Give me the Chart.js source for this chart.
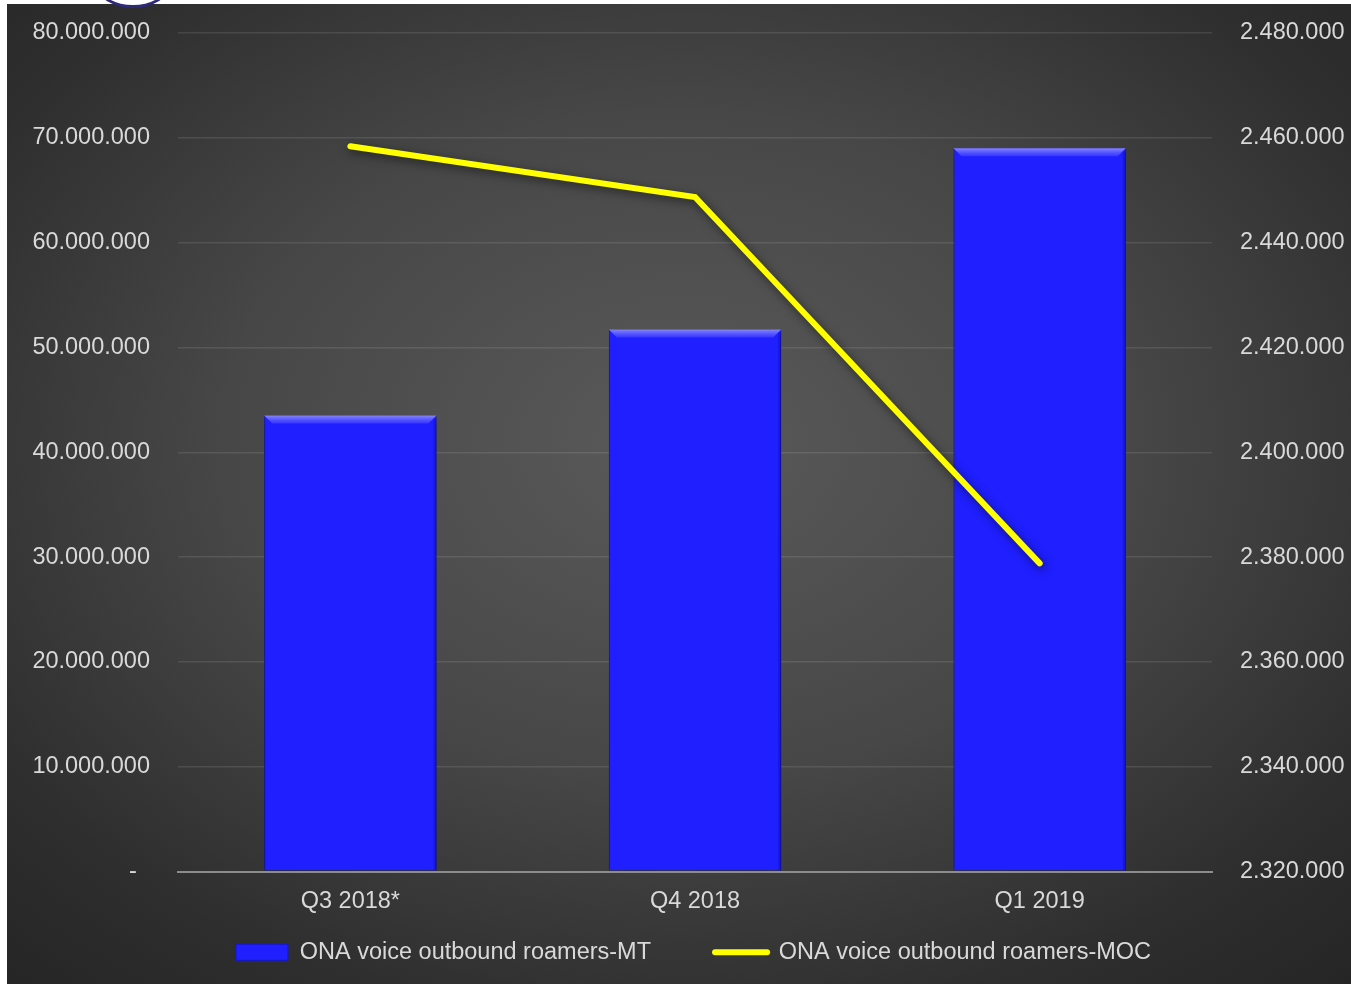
<!DOCTYPE html>
<html>
<head>
<meta charset="utf-8">
<script src="https://cdn.jsdelivr.net/npm/chart.js@4/dist/chart.umd.min.js"></script>
<style>
  html, body { margin: 0; padding: 0; background: #fff; }
  #wrap { position: relative; width: 1351px; height: 984px; overflow: hidden; }
  #bg {
    position: absolute; left: 7px; top: 4px; right: 0; bottom: 0;
    background: radial-gradient(ellipse 75% 75% at 50% 45%, #5a5a5a 0%, #474747 45%, #2e2e2e 80%, #252525 100%);
  }
  #logo {
    position: absolute; left: 98px; top: -34px; width: 64px; height: 36px;
    border: 3px solid #2e2a78; border-radius: 50%; background: #fff;
  }
  #chart { position: absolute; left: 0; top: 0; }
</style>
</head>
<body>
<div id="wrap">
  <div id="bg"></div>
  <div id="logo"></div>
  <canvas id="chart" width="1351" height="984"></canvas>
</div>
<script>
// DATA
const categories = ['Q3 2018*', 'Q4 2018', 'Q1 2019'];
const mtValues = [43500000, 51700000, 69000000];
const mocValues = [2458400, 2448700, 2378800];
const leftTicks = [0, 10000000, 20000000, 30000000, 40000000, 50000000, 60000000, 70000000, 80000000];
const rightTicks = [2320000, 2340000, 2360000, 2380000, 2400000, 2420000, 2440000, 2460000, 2480000];

const labelColor = '#d9d9d9';
const font = { family: '"Liberation Sans", Arial, sans-serif', size: 23.5 };

function fmt(v) {
    return Math.round(v).toString().replace(/\B(?=(\d{3})+(?!\d))/g, '.');
}

// BAR BEVEL + SHADOW
const bevel = {
    id: 'bevel',
    beforeDatasetDraw(chart, args) {
        const ctx = chart.ctx;
        ctx.save();
        ctx.shadowColor = 'rgba(0,0,0,0.55)';
        ctx.shadowBlur = 10;
        ctx.shadowOffsetX = 2;
        ctx.shadowOffsetY = 3;
    },
    afterDatasetDraw(chart, args) {
        const ctx = chart.ctx;
        ctx.restore();
        if (args.meta.type !== 'bar') return;
        args.meta.data.forEach(bar => {
            const l = bar.x - bar.width / 2, r = bar.x + bar.width / 2, t = bar.y;
            const d = 8;
            const g = ctx.createLinearGradient(0, t, 0, t + d);
            g.addColorStop(0, 'rgba(140,140,255,0.95)');
            g.addColorStop(1, 'rgba(70,70,255,0.6)');
            ctx.save();
            ctx.fillStyle = g;
            ctx.beginPath();
            ctx.moveTo(l, t);
            ctx.lineTo(r, t);
            ctx.lineTo(r - d, t + d);
            ctx.lineTo(l + d, t + d);
            ctx.closePath();
            ctx.fill();
            ctx.fillStyle = 'rgba(10,10,180,0.35)';
            ctx.fillRect(r - 3, t + 3, 3, bar.base - t - 3);
            ctx.restore();
        });
    }
};

// LAYOUT TWEAKS: give x labels room, centre legend on the plot
const tweak = {
    id: 'tweak',
    afterLayout(chart) {
        chart.scales.x.bottom += 60;
        chart.legend.left += 36;
    }
};

// CHART
const chart = new Chart(document.getElementById('chart').getContext('2d'), {
    type: 'bar',
    data: {
        labels: categories,
        datasets: [{
            type: 'bar',
            label: 'ONA voice outbound roamers-MT',
            data: mtValues,
            yAxisID: 'y',
            order: 2,
            backgroundColor: '#1f1fff',
            borderColor: '#1515d8',
            borderWidth: 1,
            barPercentage: 0.5,
            categoryPercentage: 1.0
        }, {
            type: 'line',
            label: 'ONA voice outbound roamers-MOC',
            data: mocValues,
            yAxisID: 'y1',
            order: 1,
            borderColor: '#ffff00',
            backgroundColor: '#ffff00',
            borderWidth: 6,
            borderCapStyle: 'round',
            borderJoinStyle: 'miter',
            pointRadius: 0,
            tension: 0
        }]
    },
    options: {
        responsive: false,
        animation: false,
        layout: { padding: { top: 33, bottom: 10, left: 0, right: 0 } },
        plugins: {
            tooltip: { enabled: false },
            legend: {
                position: 'bottom',
                labels: {
                    color: labelColor,
                    font: font,
                    usePointStyle: true,
                    pointStyleWidth: 52,
                    boxHeight: 16,
                    padding: 64,
                    sort: (a, b) => a.datasetIndex - b.datasetIndex,
                    generateLabels(chart) {
                        const items = Chart.defaults.plugins.legend.labels.generateLabels(chart);
                        items.forEach(it => {
                            if (it.datasetIndex === 0) { it.pointStyle = 'rect'; it.lineWidth = 1; }
                            else { it.pointStyle = 'line'; it.lineWidth = 6; it.lineCap = 'round'; }
                        });
                        return items;
                    }
                }
            }
        },
        scales: {
            x: {
                grid: { display: false },
                border: { display: true, color: '#8c8c8c', width: 2 },
                ticks: { color: labelColor, font: font, padding: 8 },
                afterFit: s => { s.height = 5; }
            },
            y: {
                position: 'left',
                min: 0,
                max: 80000000,
                afterBuildTicks: s => { s.ticks = leftTicks.map(v => ({ value: v })); },
                grid: {
                    color: c => c.tick && c.tick.value === 0 ? '#8c8c8c' : 'rgba(255,255,255,0.1)',
                    lineWidth: c => c.tick && c.tick.value === 0 ? 2 : 1.5,
                    drawTicks: true,
                    tickLength: 25,
                    tickColor: 'rgba(0,0,0,0)'
                },
                border: { display: false },
                ticks: {
                    color: labelColor, font: font, padding: 3,
                    callback: v => v === 0 ? '-  ' : fmt(v)
                },
                afterFit: s => { s.width = 178; }
            },
            y1: {
                position: 'right',
                min: 2320000,
                max: 2480000,
                afterBuildTicks: s => { s.ticks = rightTicks.map(v => ({ value: v })); },
                grid: { display: true, drawOnChartArea: false, drawTicks: true, tickLength: 25, tickColor: 'rgba(0,0,0,0)' },
                border: { display: false },
                ticks: {
                    color: labelColor, font: font, padding: 3,
                    callback: v => fmt(v)
                },
                afterFit: s => { s.width = 139; }
            }
        }
    },
    plugins: [bevel, tweak]
});
</script>
</body>
</html>
